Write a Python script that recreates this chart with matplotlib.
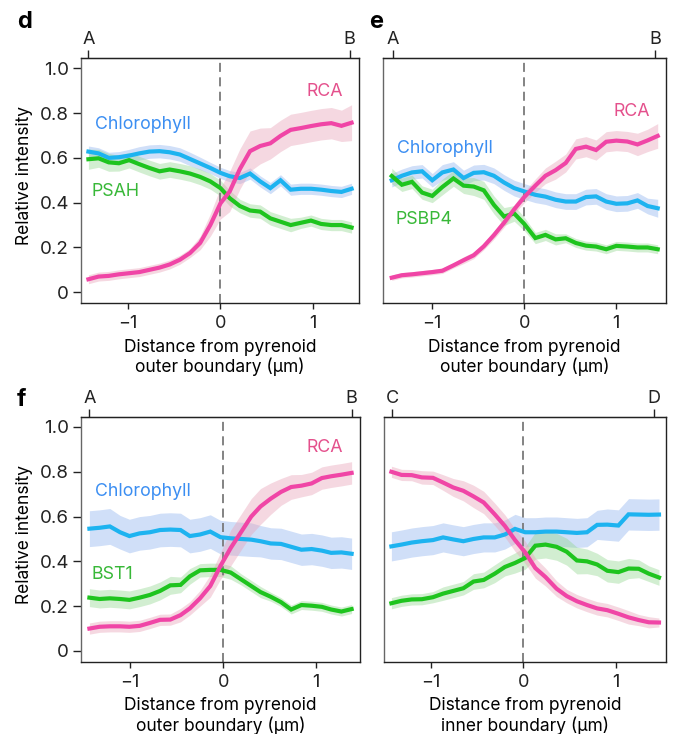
import numpy as np
import matplotlib.pyplot as plt

plt.rcParams['font.family'] = ['Inter', 'DejaVu Sans']

# distance (um) sampling of each profile
dist_d = [-1.43, -1.32, -1.21, -1.10, -0.99, -0.88, -0.77, -0.66, -0.55, -0.44, -0.33, -0.22, -0.11,
          0.0, 0.10, 0.21, 0.32, 0.43, 0.54, 0.65, 0.76, 0.87, 0.98, 1.09, 1.20, 1.31, 1.42]
dist_e = [-1.44, -1.33, -1.22, -1.11, -1.00, -0.89, -0.77, -0.66, -0.55, -0.44, -0.33, -0.22, -0.11,
          0.0, 0.12, 0.23, 0.34, 0.45, 0.56, 0.67, 0.78, 0.89, 1.00, 1.12, 1.23, 1.34, 1.45]
dist_f = [-1.44, -1.33, -1.22, -1.11, -1.01, -0.90, -0.79, -0.68, -0.57, -0.46, -0.36, -0.25, -0.14,
          -0.03, 0.08, 0.19, 0.30, 0.40, 0.51, 0.62, 0.73, 0.84, 0.95, 1.06, 1.16, 1.27, 1.38]
dist_g = [-1.43, -1.32, -1.21, -1.10, -0.98, -0.87, -0.76, -0.65, -0.54, -0.43, -0.31, -0.20, -0.09,
          0.02, 0.13, 0.24, 0.36, 0.47, 0.58, 0.69, 0.80, 0.91, 1.03, 1.14, 1.25, 1.36, 1.47]

# panel d
chl_d = [0.628, 0.62, 0.60, 0.603, 0.61, 0.62, 0.628, 0.63, 0.625, 0.615, 0.595, 0.575, 0.555,
         0.533, 0.518, 0.51, 0.53, 0.495, 0.465, 0.50, 0.458, 0.462, 0.462, 0.458, 0.452, 0.448, 0.462]
chl_d_err = [0.025, 0.025, 0.025, 0.025, 0.028, 0.03, 0.03, 0.03, 0.03, 0.03, 0.03, 0.028, 0.025,
             0.025, 0.025, 0.025, 0.025, 0.025, 0.025, 0.025, 0.025, 0.025, 0.025, 0.025, 0.025, 0.025, 0.025]
psah_d = [0.594, 0.598, 0.58, 0.576, 0.59, 0.572, 0.555, 0.54, 0.548, 0.54, 0.53, 0.515, 0.495,
          0.465, 0.42, 0.385, 0.365, 0.36, 0.33, 0.315, 0.30, 0.31, 0.32, 0.305, 0.30, 0.30, 0.289]
psah_d_err = [0.045, 0.04, 0.04, 0.035, 0.035, 0.035, 0.035, 0.035, 0.035, 0.035, 0.035, 0.035, 0.035,
              0.035, 0.035, 0.03, 0.03, 0.03, 0.03, 0.03, 0.03, 0.025, 0.025, 0.025, 0.025, 0.025, 0.025]
rca_d = [0.058, 0.07, 0.073, 0.08, 0.085, 0.09, 0.10, 0.11, 0.124, 0.145, 0.175, 0.22, 0.30,
         0.397, 0.45, 0.55, 0.63, 0.653, 0.665, 0.698, 0.725, 0.733, 0.742, 0.75, 0.755, 0.743, 0.757]
rca_d_err = [0.02, 0.02, 0.02, 0.02, 0.02, 0.02, 0.02, 0.02, 0.02, 0.02, 0.02, 0.03, 0.05,
             0.07, 0.09, 0.09, 0.09, 0.08, 0.07, 0.07, 0.07, 0.07, 0.07, 0.07, 0.07, 0.07, 0.08]

# panel e
chl_e = [0.50, 0.52, 0.535, 0.54, 0.50, 0.535, 0.548, 0.51, 0.533, 0.536, 0.52, 0.49, 0.465,
         0.45, 0.435, 0.427, 0.413, 0.405, 0.405, 0.425, 0.428, 0.405, 0.395, 0.397, 0.41, 0.385, 0.375]
chl_e_err = [0.03, 0.03, 0.03, 0.03, 0.03, 0.035, 0.035, 0.035, 0.035, 0.035, 0.035, 0.035, 0.035,
             0.035, 0.035, 0.035, 0.035, 0.035, 0.035, 0.035, 0.035, 0.035, 0.035, 0.035, 0.035, 0.035, 0.04]
psbp4_e = [0.519, 0.48, 0.493, 0.445, 0.43, 0.47, 0.508, 0.476, 0.472, 0.455, 0.39, 0.338, 0.352,
           0.305, 0.242, 0.256, 0.236, 0.241, 0.22, 0.208, 0.204, 0.192, 0.207, 0.204, 0.20, 0.20, 0.192]
psbp4_e_err = [0.035, 0.03, 0.03, 0.03, 0.03, 0.035, 0.035, 0.035, 0.04, 0.04, 0.04, 0.04, 0.035,
               0.03, 0.025, 0.025, 0.025, 0.02, 0.02, 0.02, 0.02, 0.02, 0.02, 0.02, 0.02, 0.02, 0.02]
rca_e = [0.065, 0.076, 0.08, 0.085, 0.09, 0.096, 0.12, 0.143, 0.165, 0.205, 0.255, 0.31, 0.37,
         0.425, 0.476, 0.52, 0.545, 0.577, 0.64, 0.65, 0.635, 0.672, 0.677, 0.673, 0.66, 0.678, 0.698]
rca_e_err = [0.012, 0.012, 0.012, 0.012, 0.012, 0.012, 0.012, 0.015, 0.015, 0.015, 0.018, 0.02, 0.02,
             0.025, 0.03, 0.035, 0.04, 0.04, 0.045, 0.045, 0.045, 0.045, 0.045, 0.045, 0.05, 0.05, 0.055]

# panel f
chl_f = [0.546, 0.55, 0.556, 0.53, 0.513, 0.525, 0.53, 0.54, 0.542, 0.54, 0.513, 0.52, 0.533,
         0.508, 0.503, 0.50, 0.497, 0.49, 0.48, 0.478, 0.465, 0.452, 0.455, 0.448, 0.438, 0.44, 0.434]
chl_f_err = [0.08, 0.08, 0.08, 0.075, 0.075, 0.075, 0.075, 0.075, 0.075, 0.075, 0.075, 0.075, 0.075,
             0.075, 0.075, 0.075, 0.075, 0.07, 0.07, 0.07, 0.07, 0.07, 0.07, 0.07, 0.07, 0.07, 0.07]
bst1_f = [0.238, 0.232, 0.235, 0.232, 0.228, 0.238, 0.25, 0.268, 0.293, 0.295, 0.333, 0.36, 0.362,
          0.362, 0.35, 0.32, 0.29, 0.263, 0.242, 0.218, 0.185, 0.205, 0.202, 0.197, 0.185, 0.176, 0.187]
bst1_f_err = [0.04, 0.04, 0.04, 0.04, 0.04, 0.04, 0.04, 0.04, 0.04, 0.035, 0.035, 0.03, 0.03,
              0.03, 0.03, 0.025, 0.025, 0.025, 0.02, 0.02, 0.02, 0.02, 0.02, 0.02, 0.02, 0.02, 0.02]
rca_f = [0.10, 0.108, 0.11, 0.11, 0.108, 0.112, 0.125, 0.139, 0.14, 0.16, 0.19, 0.235, 0.29,
         0.38, 0.46, 0.53, 0.60, 0.645, 0.68, 0.71, 0.732, 0.738, 0.748, 0.772, 0.78, 0.787, 0.795]
rca_f_err = [0.025, 0.025, 0.025, 0.025, 0.025, 0.025, 0.025, 0.025, 0.025, 0.03, 0.03, 0.035, 0.05,
             0.06, 0.08, 0.08, 0.08, 0.08, 0.07, 0.06, 0.055, 0.05, 0.05, 0.05, 0.05, 0.05, 0.05]

# panel g
chl_g = [0.467, 0.475, 0.484, 0.49, 0.495, 0.507, 0.498, 0.49, 0.50, 0.507, 0.507, 0.52, 0.545,
         0.53, 0.53, 0.533, 0.533, 0.53, 0.527, 0.53, 0.563, 0.564, 0.56, 0.61, 0.609, 0.608, 0.609]
chl_g_err = [0.065, 0.065, 0.065, 0.065, 0.065, 0.065, 0.065, 0.065, 0.065, 0.065, 0.065, 0.065, 0.065,
             0.065, 0.065, 0.065, 0.065, 0.065, 0.065, 0.065, 0.065, 0.07, 0.07, 0.07, 0.07, 0.07, 0.07]
grn_g = [0.213, 0.224, 0.23, 0.231, 0.24, 0.256, 0.268, 0.28, 0.31, 0.317, 0.345, 0.375, 0.393,
         0.415, 0.47, 0.475, 0.465, 0.443, 0.404, 0.40, 0.386, 0.358, 0.352, 0.368, 0.367, 0.345, 0.328]
grn_g_err = [0.025, 0.025, 0.025, 0.025, 0.025, 0.03, 0.03, 0.03, 0.035, 0.035, 0.04, 0.04, 0.045,
             0.05, 0.06, 0.06, 0.06, 0.06, 0.06, 0.055, 0.05, 0.05, 0.05, 0.045, 0.04, 0.035, 0.035]
rca_g = [0.80, 0.786, 0.785, 0.775, 0.773, 0.752, 0.73, 0.715, 0.69, 0.663, 0.61, 0.558, 0.495,
         0.44, 0.37, 0.33, 0.278, 0.245, 0.222, 0.205, 0.19, 0.182, 0.166, 0.15, 0.138, 0.128, 0.127]
rca_g_err = [0.025, 0.025, 0.025, 0.03, 0.03, 0.035, 0.04, 0.045, 0.05, 0.05, 0.05, 0.05, 0.05,
             0.05, 0.045, 0.04, 0.035, 0.03, 0.03, 0.03, 0.03, 0.03, 0.03, 0.03, 0.025, 0.025, 0.02]

PINK, PINK_BAND, PINK_TXT = '#f045a6', '#e9a3b8', '#e4508c'
BLUE, BLUE_BAND, BLUE_TXT = '#1db3f0', '#8fb3f0', '#3b8ef2'
GREEN, GREEN_BAND, GREEN_TXT = '#1ec41e', '#90d68c', '#38b838'

fig = plt.figure(figsize=(6.73, 7.34), dpi=100)

panels = [
    dict(rect=[0.1204, 0.5872, 0.413, 0.3338], xlim=(-1.51, 1.50), x=dist_d,
         chl=(chl_d, chl_d_err), grn=(psah_d, psah_d_err), rca=(rca_d, rca_d_err),
         top=['A', 'B'], top_x=[-1.43, 1.40], show_y=True,
         labels=[('Chlorophyll', -1.36, 0.75, BLUE_TXT, 'left'), ('PSAH', -1.40, 0.45, GREEN_TXT, 'left'),
                 ('RCA', 1.13, 0.895, PINK_TXT, 'center')],
         xlabel='Distance from pyrenoid\nouter boundary (µm)'),
    dict(rect=[0.5698, 0.5872, 0.4198, 0.3338], xlim=(-1.53, 1.54), x=dist_e,
         chl=(chl_e, chl_e_err), grn=(psbp4_e, psbp4_e_err), rca=(rca_e, rca_e_err),
         top=['A', 'B'], top_x=[-1.43, 1.42], show_y=False,
         labels=[('Chlorophyll', -1.38, 0.643, BLUE_TXT, 'left'), ('PSBP4', -1.40, 0.323, GREEN_TXT, 'left'),
                 ('RCA', 1.17, 0.805, PINK_TXT, 'center')],
         xlabel='Distance from pyrenoid\nouter boundary (µm)'),
    dict(rect=[0.1204, 0.0985, 0.4145, 0.3338], xlim=(-1.53, 1.47), x=dist_f,
         chl=(chl_f, chl_f_err), grn=(bst1_f, bst1_f_err), rca=(rca_f, rca_f_err),
         top=['A', 'B'], top_x=[-1.44, 1.38], show_y=True,
         labels=[('Chlorophyll', -1.38, 0.714, BLUE_TXT, 'left'), ('BST1', -1.42, 0.34, GREEN_TXT, 'left'),
                 ('RCA', 1.09, 0.907, PINK_TXT, 'center')],
         xlabel='Distance from pyrenoid\nouter boundary (µm)'),
    dict(rect=[0.5706, 0.0985, 0.419, 0.3338], xlim=(-1.51, 1.546), x=dist_g,
         chl=(chl_g, chl_g_err), grn=(grn_g, grn_g_err), rca=(rca_g, rca_g_err),
         top=['C', 'D'], top_x=[-1.42, 1.42], show_y=False, labels=[],
         xlabel='Distance from pyrenoid\ninner boundary (µm)'),
]

for p in panels:
    ax = fig.add_axes(p['rect'])
    x = np.array(p['x'])
    for key, band, a in [('chl', BLUE_BAND, 0.42), ('grn', GREEN_BAND, 0.4), ('rca', PINK_BAND, 0.42)]:
        vals, err = np.array(p[key][0]), np.array(p[key][1])
        ax.fill_between(x, vals - err, vals + err, color=band, alpha=a, lw=0)
    for key, col in [('chl', BLUE), ('grn', GREEN), ('rca', PINK)]:
        ax.plot(x, p[key][0], color=col, lw=3.0, solid_joinstyle='miter')
    ax.axvline(0, color='#7a7a7a', lw=1.3, ls=(0, (5, 3)), zorder=1)
    ax.set_xlim(*p['xlim'])
    ax.set_ylim(-0.048, 1.046)
    ax.set_xticks([-1, 0, 1])
    ax.set_xticklabels(['\u22121', '0', '1'])
    ax.tick_params(axis='x', labelsize=13, length=4.5, width=1, pad=4, colors='#222222')
    if p['show_y']:
        ax.set_yticks([0, 0.2, 0.4, 0.6, 0.8, 1.0])
        ax.set_yticklabels(['0', '0.2', '0.4', '0.6', '0.8', '1.0'])
        ax.tick_params(axis='y', labelsize=13.5, length=5.5, width=1, pad=3, colors='#222222')
        ax.set_ylabel('Relative intensity', fontsize=12.5)
        ax.yaxis.set_label_coords(-0.172, 0.52)
    else:
        ax.set_yticks([])
    for s in ax.spines.values():
        s.set_linewidth(1.0)
        s.set_color('#222222')
    ax.spines['left'].set_color('#666666')
    ax.set_xlabel(p['xlabel'], fontsize=12.5, labelpad=5, linespacing=1.14)
    top = ax.secondary_xaxis('top')
    top.set_xticks(p['top_x'])
    top.set_xticklabels(p['top'])
    top.tick_params(length=6, width=1, labelsize=13, pad=1, colors='#222222')
    for txt, tx, ty, c, ha in p['labels']:
        ax.text(tx, ty, txt, color=c, fontsize=12.8, ha=ha, va='center')

fig.text(17 / 673, 1 - 22 / 734, 'd', fontsize=17, fontweight='bold', va='center', ha='left')
fig.text(369 / 673, 1 - 22 / 734, 'e', fontsize=17, fontweight='bold', va='center', ha='left')
fig.text(17 / 673, 1 - 400 / 734, 'f', fontsize=17, fontweight='bold', va='center', ha='left')

fig.savefig('out.png', dpi=100)
